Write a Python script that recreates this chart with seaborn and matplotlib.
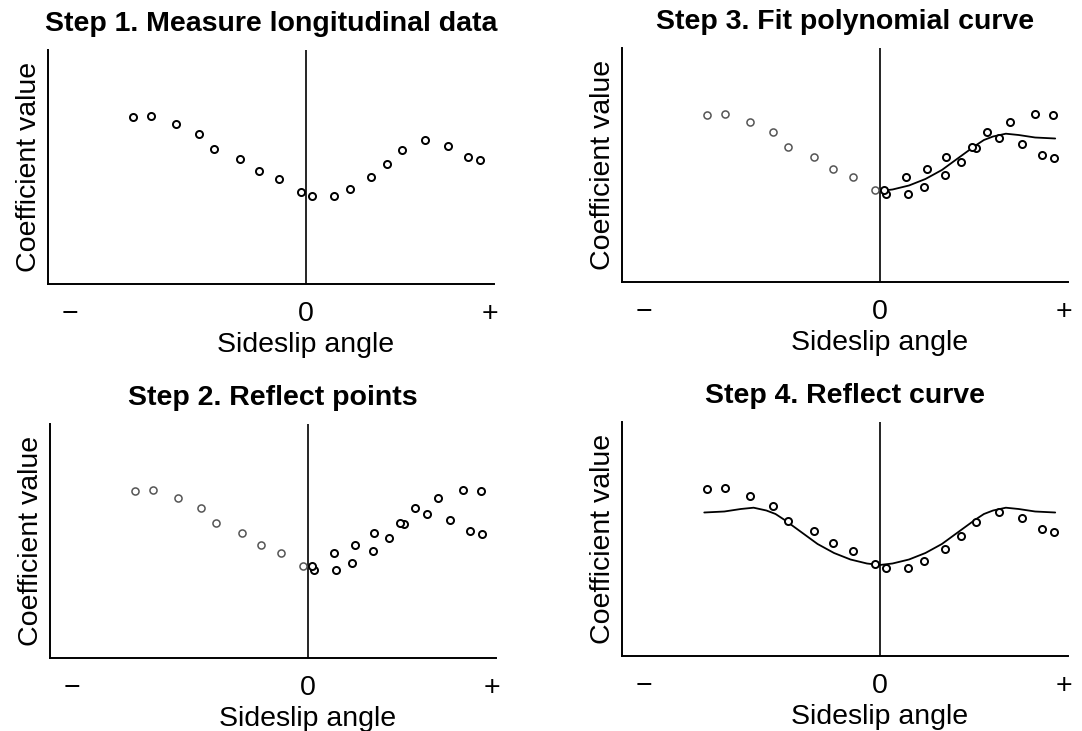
import matplotlib
matplotlib.use("Agg")
import matplotlib.pyplot as plt
import numpy as np
import pandas as pd
import seaborn as sns

# ---- data (arbitrary units) ----
beta_neg = [-9.47, -8.49, -7.12, -5.86, -5.03, -3.62, -2.57, -1.46, -0.26]
coef_neg = [16.73, 16.83, 16.00, 15.03, 13.53, 12.50, 11.27, 10.47, 9.23]
beta_pos = [0.34, 1.53, 2.40, 3.59, 4.43, 5.26, 6.52, 7.78, 8.89, 9.52]
coef_pos = [8.80, 8.80, 9.53, 10.70, 11.97, 13.40, 14.43, 13.83, 12.73, 12.43]

fit_beta = [0.0, 0.7, 1.6, 2.5, 3.4, 4.3, 5.2, 5.7, 6.2, 6.9, 7.6, 8.5, 9.6]
fit_coef = [9.10, 9.25, 9.65, 10.30, 11.20, 12.40, 13.60, 14.20, 14.55, 14.83, 14.70, 14.45, 14.35]

tick_pos = [-12.9, 0, 10.1]
tick_labels = ["\u2212", "0", "+"]

titles = ["Step 1. Measure longitudinal data", "Step 3. Fit polynomial curve",
          "Step 2. Reflect points", "Step 4. Reflect curve"]
xlabel = "Sideslip angle"
ylabel = "Coefficient value"

# ---- derived tables ----
df_orig = pd.DataFrame({"beta": beta_neg + beta_pos, "coef": coef_neg + coef_pos})
df_neg = pd.DataFrame({"beta": beta_neg, "coef": coef_neg})
df_right = pd.DataFrame({"beta": beta_pos + [-b for b in beta_neg],
                         "coef": coef_pos + coef_neg})
df_fit = pd.DataFrame({"beta": fit_beta, "coef": fit_coef})
df_fit_full = pd.DataFrame({"beta": [-b for b in fit_beta[::-1]] + fit_beta[1:],
                            "coef": fit_coef[::-1] + fit_coef[1:]})

sns.set_style("white")
plt.rcParams["font.family"] = ["Liberation Sans", "DejaVu Sans"]
plt.rcParams["text.color"] = "black"
plt.rcParams["axes.labelcolor"] = "black"
plt.rcParams["xtick.color"] = "black"
plt.rcParams["ytick.color"] = "black"

FS = 20.5
W, H = 1082, 731
fig = plt.figure(figsize=(W / 100, H / 100), dpi=100)

XMIN, XMAX = -14.1, 10.3
YMAX = 23.4
ax_w = 446 / W
ax_h = 234 / H
# (left px, bottom px)
pos = {
    1: (48, 284),
    3: (622, 282),
    2: (50, 658),
    4: (622, 656),
}
axes = {}
for k, (lp, bp) in pos.items():
    axes[k] = fig.add_axes([lp / W, (H - bp) / H, ax_w, ax_h])

mk = dict(s=26, facecolor="white", edgecolor="black", linewidth=1.4, legend=False, zorder=3)
mk_gray = dict(s=26, facecolor="white", edgecolor="#555555", linewidth=1.1, legend=False, zorder=3)
ln = dict(color="black", linewidth=1.3, sort=False, estimator=None, legend=False, zorder=2)


def setup(ax, title):
    ax.set_xlim(XMIN, XMAX)
    ax.set_ylim(0, YMAX)
    ax.axvline(0, color="black", linewidth=1.2, zorder=1)
    ax.set_xticks(tick_pos)
    ax.set_xticklabels(tick_labels)
    ax.set_yticks([])
    ax.tick_params(axis="x", length=0, pad=12, labelsize=FS, colors="black")
    for s in ["top", "right"]:
        ax.spines[s].set_visible(False)
    for s in ["left", "bottom"]:
        ax.spines[s].set_linewidth(1.4)
        ax.spines[s].set_color("black")
    ax.set_title(title, fontsize=FS, fontweight="bold", pad=14, color="black")
    ax.set_ylabel(ylabel, fontsize=FS, labelpad=4, color="black")
    ax.set_xlabel(xlabel, fontsize=FS, color="black")
    ax.xaxis.set_label_coords((0 - XMIN) / (XMAX - XMIN), -0.205)


# Step 1
ax = axes[1]
sns.scatterplot(data=df_orig, x="beta", y="coef", ax=ax, **mk)
setup(ax, titles[0])

# Step 3
ax = axes[3]
sns.scatterplot(data=df_neg, x="beta", y="coef", ax=ax, **mk_gray)
sns.scatterplot(data=df_right, x="beta", y="coef", ax=ax, **mk)
sns.lineplot(data=df_fit, x="beta", y="coef", ax=ax, **ln)
setup(ax, titles[1])

# Step 2
ax = axes[2]
sns.scatterplot(data=df_neg, x="beta", y="coef", ax=ax, **mk_gray)
sns.scatterplot(data=df_right, x="beta", y="coef", ax=ax, **mk)
setup(ax, titles[2])

# Step 4
ax = axes[4]
sns.scatterplot(data=df_orig, x="beta", y="coef", ax=ax, **mk)
sns.lineplot(data=df_fit_full, x="beta", y="coef", ax=ax, **ln)
setup(ax, titles[3])

fig.savefig("out.png", dpi=100, facecolor="white")
